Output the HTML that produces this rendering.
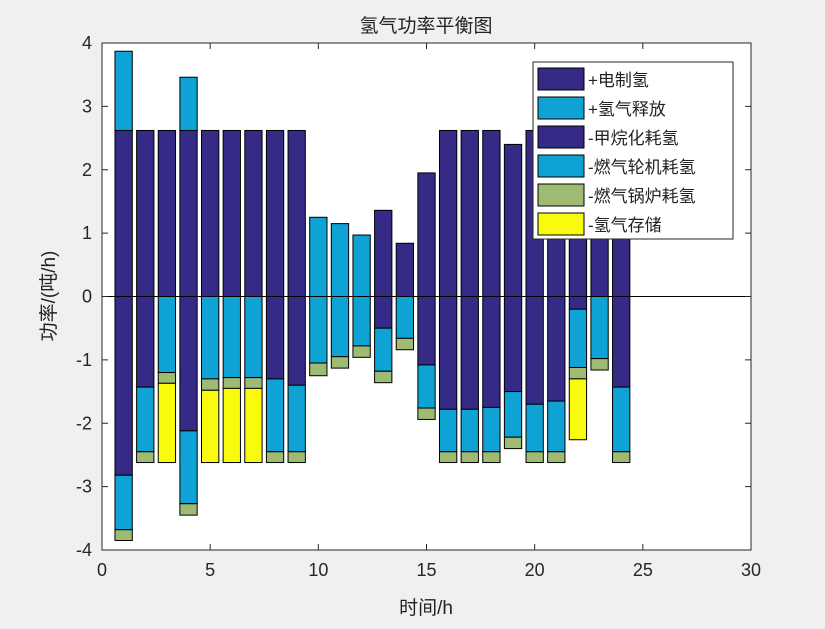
<!DOCTYPE html>
<html><head><meta charset="utf-8"><style>
body{margin:0;background:#f0f0f0;}
svg text{font-family:"Liberation Sans","Noto Sans CJK SC",sans-serif;}
</style></head><body>
<svg id="c" width="825" height="624" xmlns="http://www.w3.org/2000/svg">
<rect x="0" y="0" width="825" height="624" fill="#f0f0f0"/>
<rect x="102" y="43" width="649" height="507" fill="#fff"/>
<g id="bars"></g>
<g id="axes"></g>
<text x="426" y="32" font-size="19" text-anchor="middle" fill="#222">氢气功率平衡图</text>
<text x="426" y="614" font-size="19" text-anchor="middle" fill="#222">时间/h</text>
<text x="0" y="0" font-size="19" text-anchor="middle" fill="#222" transform="translate(55,296) rotate(-90)">功率/(吨/h)</text>
<g id="legend"></g>
</svg>
<script>
const hours=[1,2,3,4,5,6,7,8,9,10,11,12,13,14,15,16,17,18,19,20,21,22,23,24];
const elec=[2.62,2.62,2.62,2.62,2.62,2.62,2.62,2.62,2.62,0,0,0,1.36,0.84,1.95,2.62,2.62,2.62,2.4,2.62,2.62,2.62,2.62,2.62];
const release=[1.25,0,0,0.84,0,0,0,0,0,1.25,1.15,0.97,0,0,0,0,0,0,0,0,0,0,0,0];
const methan=[2.82,1.43,0,2.12,0,0,0,1.3,1.4,0,0,0,0.5,0,1.08,1.78,1.78,1.75,1.5,1.7,1.65,0.2,0,1.43];
const turbine=[0.86,1.02,1.2,1.15,1.3,1.28,1.28,1.15,1.05,1.05,0.95,0.78,0.68,0.66,0.68,0.67,0.67,0.7,0.72,0.75,0.8,0.92,0.98,1.02];
const boiler=[0.17,0.17,0.17,0.18,0.18,0.17,0.17,0.17,0.17,0.2,0.18,0.18,0.18,0.18,0.18,0.17,0.17,0.17,0.18,0.17,0.17,0.18,0.18,0.17];
const storage=[0,0,1.25,0,1.14,1.17,1.17,0,0,0,0,0,0,0,0,0,0,0,0,0,0,0.96,0,0];
const xTicks=[0,5,10,15,20,25,30];
const yTicks=[-4,-3,-2,-1,0,1,2,3,4];
const legendLabels=["+电制氢","+氢气释放","-甲烷化耗氢","-燃气轮机耗氢","-燃气锅炉耗氢","-氢气存储"];
const colors=["#352a86","#0ea3d4","#352a86","#0ea3d4","#9fbb73","#f9fb0e"];
const NS="http://www.w3.org/2000/svg";
const L=102,R=751,T=43,B=550;
const xs=v=>L+(v-0)/30*(R-L);
const ys=v=>B-(v+4)/8*(B-T);
function mk(tag,attrs,parent){const e=document.createElementNS(NS,tag);for(const k in attrs)e.setAttribute(k,attrs[k]);parent.appendChild(e);return e;}
const bars=document.getElementById('bars');
const bw=0.8*(R-L)/30;
const pos=[elec,release], neg=[methan,turbine,boiler,storage];
const posNames=['electrolysis','release'], negNames=['methanation','turbine','boiler','storage'];
hours.forEach((h,i)=>{
  let acc=0;
  pos.forEach((s,k)=>{const v=s[i]; if(v>0){
    const r=mk('rect',{x:xs(h)-bw/2,y:ys(acc+v),width:bw,height:ys(acc)-ys(acc+v),fill:colors[k],stroke:'#000','stroke-width':1},bars);
    
    
    acc+=v;}});
  acc=0;
  neg.forEach((s,k)=>{const v=s[i]; if(v>0){
    const r=mk('rect',{x:xs(h)-bw/2,y:ys(acc),width:bw,height:ys(acc-v)-ys(acc),fill:colors[k+2],stroke:'#000','stroke-width':1},bars);
    
    
    acc-=v;}});
});
const ax=document.getElementById('axes');
const zl=mk('line',{x1:L,x2:R,y1:ys(0),y2:ys(0),stroke:'#000','stroke-width':1},ax);


const fr=mk('rect',{x:L,y:T,width:R-L,height:B-T,fill:'none',stroke:'#262626','stroke-width':1},ax);


xTicks.forEach(t=>{
  mk('line',{x1:xs(t),x2:xs(t),y1:B,y2:B-6,stroke:'#262626'},ax);
  mk('line',{x1:xs(t),x2:xs(t),y1:T,y2:T+6,stroke:'#262626'},ax);
  const tx=mk('text',{x:xs(t),y:B+26,'font-size':18,'text-anchor':'middle',fill:'#262626'},ax);
  tx.textContent=t;
  
  
});
yTicks.forEach(t=>{
  mk('line',{x1:L,x2:L+6,y1:ys(t),y2:ys(t),stroke:'#262626'},ax);
  mk('line',{x1:R,x2:R-6,y1:ys(t),y2:ys(t),stroke:'#262626'},ax);
  const tx=mk('text',{x:L-10,y:ys(t)+6,'font-size':18,'text-anchor':'end',fill:'#262626'},ax);
  tx.textContent=t;
  
  
});
const lg=document.getElementById('legend');
const lb=mk('rect',{x:533,y:62,width:200,height:177,fill:'#fff',stroke:'#262626'},lg);


legendLabels.forEach((s,i)=>{
  const y=68+i*29;
  const sw=mk('rect',{x:538,y:y,width:46,height:22,fill:colors[i],stroke:'#000'},lg);
  
  
  const tx=mk('text',{x:588,y:y+18,'font-size':17,fill:'#222'},lg);
  tx.textContent=s;
  
  
});
</script>
</body></html>
